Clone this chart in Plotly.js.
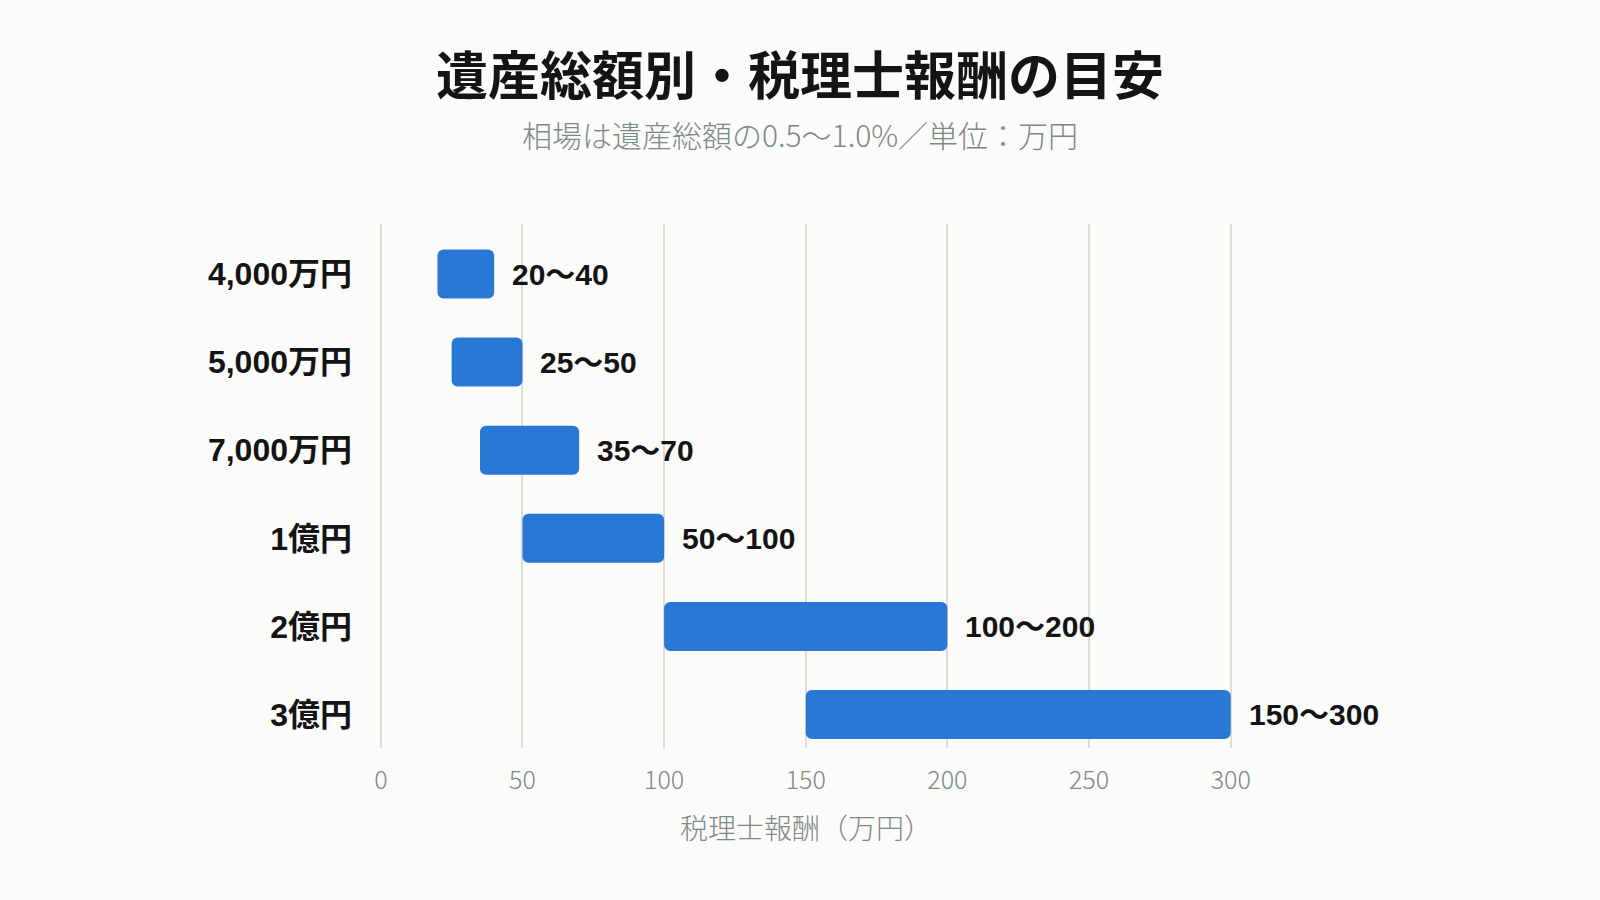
<!DOCTYPE html>
<html>
<head>
<meta charset="utf-8">
<script src="https://cdn.plot.ly/plotly-3.0.1.min.js"></script>
<style>
  html, body { margin: 0; padding: 0; background: #fbfbf9; }
  #chart { width: 1600px; height: 900px; }
</style>
</head>
<body>
<div id="chart"></div>
<script>
// 遺産総額ごとの税理士報酬の目安（単位：万円）
var estates = ['4,000万円', '5,000万円', '7,000万円', '1億円', '2億円', '3億円'];
var feeLow  = [20, 25, 35, 50, 100, 150];
var feeHigh = [40, 50, 70, 100, 200, 300];
var xTicks  = [0, 50, 100, 150, 200, 250, 300];

var blue = '#2a78d6';
var gray = '#7b8a84';
var ink  = '#141414';
var latin = 'Liberation Sans, Noto Sans CJK JP, sans-serif';
var cjk   = 'Noto Sans CJK JP, sans-serif';

var spans = feeLow.map(function (lo, i) { return feeHigh[i] - lo; });

var data = [{
  type: 'bar', orientation: 'h',
  y: estates, x: spans, base: feeLow,
  marker: { color: blue, cornerradius: 6, line: { width: 0 } },
  hoverinfo: 'skip', showlegend: false
}];

var notes = [];
for (var j = 0; j < estates.length; j++) {
  notes.push({
    x: feeHigh[j], y: estates[j], xref: 'x', yref: 'y',
    text: feeLow[j] + '〜' + feeHigh[j],
    showarrow: false, xanchor: 'left', xshift: 16,
    font: { family: latin, size: 30, color: ink, weight: 'bold' }
  });
}
// サブタイトル
notes.push({
  x: 0.437, y: 1.172, xref: 'paper', yref: 'paper',
  text: '相場は遺産総額の0.5〜1.0%／単位：万円',
  showarrow: false, xanchor: 'center', yanchor: 'middle',
  font: { family: cjk, size: 30, color: gray, weight: 300 }
});
// 横軸タイトル
notes.push({
  x: 0.443, y: -0.151, xref: 'paper', yref: 'paper',
  text: '税理士報酬（万円）',
  showarrow: false, xanchor: 'center', yanchor: 'middle',
  font: { family: cjk, size: 28, color: gray, weight: 300 }
});

var layout = {
  width: 1600, height: 900,
  paper_bgcolor: '#fbfbf9', plot_bgcolor: '#fbfbf9',
  margin: { l: 378, r: 256, t: 224, b: 152 },
  barmode: 'overlay', bargap: 0.444,
  title: {
    text: '遺産総額別・税理士報酬の目安',
    x: 0.5, xanchor: 'center', xref: 'container',
    y: 1 - 77 / 900, yanchor: 'middle', yref: 'container',
    font: { family: cjk, size: 52, color: ink, weight: 'bold' }
  },
  xaxis: {
    range: [-1, 340], tickvals: xTicks, ticktext: xTicks.map(String),
    showgrid: true, gridcolor: '#dddcd5', gridwidth: 2,
    zeroline: false, showline: false, ticks: '',
    ticklabelstandoff: 15,
    tickfont: { family: cjk, size: 25, color: gray, weight: 300 }
  },
  yaxis: {
    type: 'category', range: [5.38, -0.5675],
    showgrid: false, zeroline: false, showline: false, ticks: '',
    ticklabelstandoff: 25,
    tickfont: { family: latin, size: 32, color: ink, weight: 'bold' }
  },
  annotations: notes
};

Plotly.newPlot('chart', data, layout, { displayModeBar: false, staticPlot: true });
</script>
</body>
</html>
